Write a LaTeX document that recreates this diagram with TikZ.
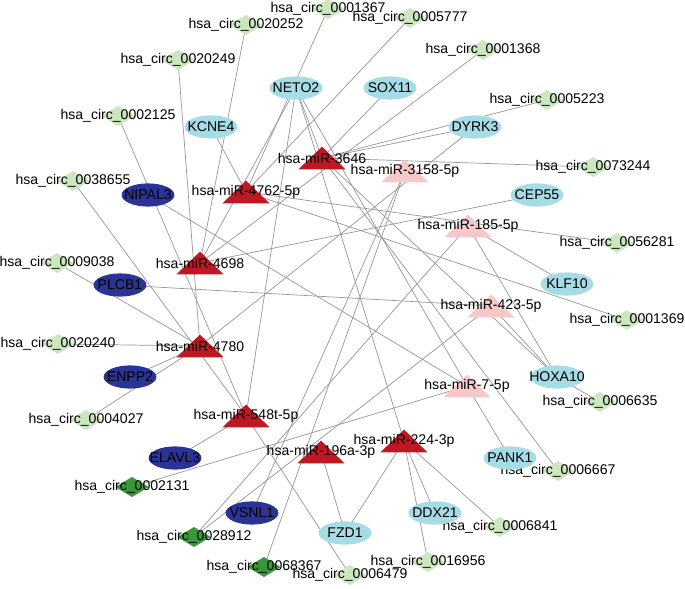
\documentclass[tikz,border=0pt]{standalone}
\usepackage{fontspec}
\setmainfont{Liberation Sans}
\usepackage{tikz}
\usetikzlibrary{shapes.geometric,backgrounds}

\definecolor{mrnalight}{RGB}{166,220,230}
\definecolor{mrnadark}{RGB}{42,52,150}
\definecolor{circlight}{RGB}{204,230,192}
\definecolor{circdark}{RGB}{58,150,58}
\definecolor{mirred}{RGB}{190,24,34}
\definecolor{mirpink}{RGB}{246,200,202}
\definecolor{edgegray}{RGB}{150,150,150}

\begin{document}
\begin{tikzpicture}[x=0.025cm, y=-0.025cm, font=\fontsize{10}{12}\selectfont,
    circnode/.style={draw=none, minimum width=0.83cm, minimum height=0.5cm, inner sep=0pt,
        path picture={\fill[#1] (path picture bounding box.west) -- (path picture bounding box.north)
            -- (path picture bounding box.east) -- (path picture bounding box.south) -- cycle;}},
    mirnode/.style={draw=none, minimum width=1.18cm, minimum height=0.57cm, inner sep=0pt,
        path picture={\fill[#1] (path picture bounding box.south west) -- (path picture bounding box.north)
            -- (path picture bounding box.south east) -- cycle;}},
    genenode/.style={ellipse, fill=#1, minimum width=1.32cm, minimum height=0.58cm, inner sep=0pt},
    link/.style={edgegray, line width=0.5pt}]
    \useasboundingbox (0,0) rectangle (685,589);

    % circRNAs
    \node[circnode=circlight, label=center:hsa\_circ\_0001367] (c0001367) at (328,9) {};
    \node[circnode=circlight, label=center:hsa\_circ\_0005777] (c0005777) at (410,18) {};
    \node[circnode=circlight, label=center:hsa\_circ\_0020252] (c0020252) at (246,25) {};
    \node[circnode=circlight, label=center:hsa\_circ\_0020249] (c0020249) at (178,60) {};
    \node[circnode=circlight, label=center:hsa\_circ\_0001368] (c0001368) at (483,50) {};
    \node[circnode=circlight, label=center:hsa\_circ\_0005223] (c0005223) at (547,100) {};
    \node[circnode=circlight, label=center:hsa\_circ\_0002125] (c0002125) at (118,116) {};
    \node[circnode=circlight, label=center:hsa\_circ\_0038655] (c0038655) at (73,181) {};
    \node[circnode=circlight, label=center:hsa\_circ\_0073244] (c0073244) at (593,167) {};
    \node[circnode=circlight, label=center:hsa\_circ\_0056281] (c0056281) at (617,243) {};
    \node[circnode=circlight, label=center:hsa\_circ\_0009038] (c0009038) at (57,263) {};
    \node[circnode=circlight, label=center:hsa\_circ\_0001369] (c0001369) at (627,320) {};
    \node[circnode=circlight, label=center:hsa\_circ\_0020240] (c0020240) at (58,344) {};
    \node[circnode=circlight, label=center:hsa\_circ\_0004027] (c0004027) at (86,420) {};
    \node[circnode=circlight, label=center:hsa\_circ\_0006635] (c0006635) at (600,402) {};
    \node[circnode=circlight, label=center:hsa\_circ\_0006667] (c0006667) at (558,471) {};
    \node[circnode=circlight, label=center:hsa\_circ\_0006841] (c0006841) at (500,527) {};
    \node[circnode=circlight, label=center:hsa\_circ\_0016956] (c0016956) at (428,562) {};
    \node[circnode=circlight, label=center:hsa\_circ\_0006479] (c0006479) at (350,575) {};
    \node[circnode=circdark, label=center:hsa\_circ\_0002131] (c0002131) at (132,487) {};
    \node[circnode=circdark, label=center:hsa\_circ\_0028912] (c0028912) at (194,537) {};
    \node[circnode=circdark, label=center:hsa\_circ\_0068367] (c0068367) at (264,567) {};

    % mRNAs
    \node[genenode=mrnalight, label=center:NETO2] (neto2) at (296,88) {};
    \node[genenode=mrnalight, label=center:SOX11] (sox11) at (390,88) {};
    \node[genenode=mrnalight, label=center:KCNE4] (kcne4) at (211,127) {};
    \node[genenode=mrnalight, label=center:DYRK3] (dyrk3) at (475,127) {};
    \node[genenode=mrnalight, label=center:CEP55] (cep55) at (537,195) {};
    \node[genenode=mrnalight, label=center:KLF10] (klf10) at (567,284) {};
    \node[genenode=mrnalight, label=center:HOXA10] (hoxa10) at (557,377) {};
    \node[genenode=mrnalight, label=center:PANK1] (pank1) at (510,458) {};
    \node[genenode=mrnalight, label=center:DDX21] (ddx21) at (435,513) {};
    \node[genenode=mrnalight, label=center:FZD1] (fzd1) at (345,533) {};
    \node[genenode=mrnadark, label=center:NIPAL3] (nipal3) at (148,195) {};
    \node[genenode=mrnadark, label=center:PLCB1] (plcb1) at (120,285) {};
    \node[genenode=mrnadark, label=center:ENPP2] (enpp2) at (130,377) {};
    \node[genenode=mrnadark, label=center:ELAVL3] (elavl3) at (175,458) {};
    \node[genenode=mrnadark, label=center:VSNL1] (vsnl1) at (252,513) {};

    % miRNAs
    \node[mirnode=mirred, label=center:hsa-miR-3646] (mir3646) at (322,158) {};
    \node[mirnode=mirred, label=center:hsa-miR-4762-5p] (mir4762) at (246,192) {};
    \node[mirnode=mirred, label=center:hsa-miR-4698] (mir4698) at (200,263) {};
    \node[mirnode=mirred, label=center:hsa-miR-4780] (mir4780) at (200,346) {};
    \node[mirnode=mirred, label=center:hsa-miR-548t-5p] (mir548t) at (246,416) {};
    \node[mirnode=mirred, label=center:hsa-miR-196a-3p] (mir196a) at (321,452) {};
    \node[mirnode=mirred, label=center:hsa-miR-224-3p] (mir224) at (404,441) {};
    \node[mirnode=mirpink, label=center:hsa-miR-3158-5p] (mir3158) at (405,171) {};
    \node[mirnode=mirpink, label=center:hsa-miR-185-5p] (mir185) at (468,226) {};
    \node[mirnode=mirpink, label=center:hsa-miR-423-5p] (mir423) at (491,306) {};
    \node[mirnode=mirpink, label=center:hsa-miR-7-5p] (mir7) at (467,386) {};

    % Edges behind the nodes
    \begin{scope}[on background layer]
    \foreach \a/\b in {c0001367/mir4762, c0005777/mir4762, c0020252/mir4698, c0020249/mir4780,
        c0001368/mir4698, c0005223/mir3646, c0002125/mir548t, c0038655/mir548t, c0073244/mir3646,
        c0056281/mir4762, c0009038/mir4780, c0001369/mir4762, c0020240/mir4780, c0004027/mir4780,
        c0006635/hoxa10, c0006667/mir3646, c0006841/mir224, c0016956/mir224, c0006479/mir548t,
        c0002131/mir7, c0028912/mir185, c0028912/mir423, c0068367/mir3158}
        \draw[link] (\a.center) -- (\b.center);
    \foreach \a/\b in {neto2/mir3646, neto2/mir548t, neto2/mir224, neto2/mir7, neto2/mir4698,
        sox11/mir3646, kcne4/mir4762, dyrk3/mir3646, dyrk3/mir4780, cep55/mir4698, klf10/mir185,
        hoxa10/mir185, hoxa10/mir423, hoxa10/mir3646, pank1/mir7, ddx21/mir224, fzd1/mir224,
        fzd1/mir196a, nipal3/mir7, plcb1/mir423, enpp2/mir4780, elavl3/mir548t, vsnl1/mir3158}
        \draw[link] (\a.center) -- (\b.center);
    \end{scope}
\end{tikzpicture}
\end{document}
